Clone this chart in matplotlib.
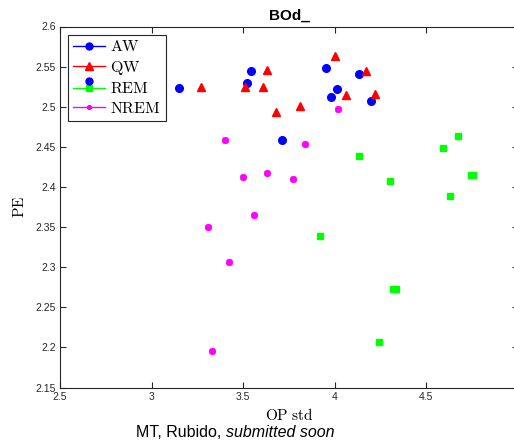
import matplotlib
matplotlib.use("Agg")
import matplotlib.pyplot as plt
from matplotlib.lines import Line2D
from matplotlib.legend_handler import HandlerBase

plt.rcParams['mathtext.fontset'] = 'cm'

aw_x = [3.15, 3.54, 3.52, 3.71, 3.95, 4.01, 3.98, 4.13, 4.20]
aw_y = [2.523, 2.545, 2.530, 2.459, 2.548, 2.522, 2.512, 2.541, 2.507]

qw_x = [3.27, 3.63, 3.51, 3.61, 3.68, 3.81, 4.00, 4.06, 4.17, 4.22]
qw_y = [2.525, 2.546, 2.524, 2.524, 2.494, 2.501, 2.563, 2.515, 2.545, 2.516]

rem_x = [4.13, 4.59, 4.67, 4.30, 4.745, 4.755, 4.63, 3.92, 4.32, 4.335, 4.24]
rem_y = [2.438, 2.449, 2.463, 2.407, 2.415, 2.415, 2.389, 2.339, 2.273, 2.273, 2.207]

nrem_x = [3.40, 3.84, 4.02, 3.50, 3.63, 3.77, 3.56, 3.31, 3.42, 3.33]
nrem_y = [2.459, 2.454, 2.497, 2.413, 2.418, 2.410, 2.365, 2.350, 2.306, 2.196]

x_ticks = [2.5, 3, 3.5, 4, 4.5]
x_labels = ['2.5', '3', '3.5', '4', '4.5']
y_ticks = [2.15, 2.2, 2.25, 2.3, 2.35, 2.4, 2.45, 2.5, 2.55, 2.6]
y_labels = ['2.15', '2.2', '2.25', '2.3', '2.35', '2.4', '2.45', '2.5', '2.55', '2.6']

W, H = 514, 441
fig = plt.figure(figsize=(W / 100, H / 100), dpi=100)
ax = fig.add_axes([60 / W, 1 - 387.5 / H, 458 / W, (387.5 - 26.5) / H])

ast = (8, 2, 0)
ax.plot(aw_x, aw_y, 'o', color='#0000ff', ms=5.5, label='AW')
ax.plot(qw_x, qw_y, '^', color='#ff0000', ms=6, label='QW')
ax.plot(rem_x, rem_y, 's', color='#00ff00', ms=4.5, label='REM')
ax.plot(nrem_x, nrem_y, ls='none', marker=ast, color='#ff00ff', ms=5, mew=1.3, label='NREM')

ax.set_xlim(2.5, 5)
ax.set_ylim(2.15, 2.6)
ax.set_xticks(x_ticks)
ax.set_yticks(y_ticks)
ax.set_xticklabels(x_labels)
ax.set_yticklabels(y_labels)
ax.tick_params(direction='in', top=True, right=True, length=4, width=0.8,
               labelsize=7.5, labelcolor='#262626', color='#262626', pad=3)
for lab in ax.get_xticklabels() + ax.get_yticklabels():
    lab.set_family('Liberation Sans')
for s in ax.spines.values():
    s.set_color('#262626')
    s.set_linewidth(0.8)

ax.set_title('BOd_', fontsize=11, fontweight='bold', family='Liberation Sans', pad=5)
ax.set_xlabel(r'$\mathrm{OP\ std}$', fontsize=11, labelpad=4)
ax.set_ylabel(r'$\mathrm{PE}$', fontsize=11, labelpad=6)


class LineMarkerHandler(HandlerBase):
    def __init__(self, color, marker, ms, mew=1.0, extra=None):
        super().__init__()
        self.color = color
        self.marker = marker
        self.ms = ms
        self.mew = mew
        self.extra = extra

    def create_artists(self, legend, orig_handle, xdescent, ydescent, width, height,
                       fontsize, trans):
        y = height / 2 - ydescent
        ln = Line2D([-xdescent, width - xdescent], [y, y], color=self.color, lw=1.0)
        mk = Line2D([width / 2 - xdescent], [y], ls='none', marker=self.marker,
                    color=self.color, ms=self.ms, mew=self.mew)
        arts = [ln, mk]
        if self.extra is not None:
            c, m, s, dy = self.extra
            ex = Line2D([width / 2 - xdescent], [y + dy], ls='none', marker=m,
                        color=c, ms=s)
            arts.append(ex)
        for a in arts:
            a.set_transform(trans)
        return arts


h = [Line2D([], []) for _ in range(4)]
handlers = {
    h[0]: LineMarkerHandler('#0000ff', 'o', 5),
    h[1]: LineMarkerHandler('#ff0000', '^', 5.5),
    h[2]: LineMarkerHandler('#00ff00', 's', 4, extra=('#0000ff', 'o', 5, 5)),
    h[3]: LineMarkerHandler('#ff00ff', ast, 3.5, mew=1.1),
}
leg = ax.legend(h, [r'$\mathrm{AW}$', r'$\mathrm{QW}$', r'$\mathrm{REM}$', r'$\mathrm{NREM}$'],
                handler_map=handlers, loc='upper left', bbox_to_anchor=(8 / 458, 1 - 8 / 361),
                borderaxespad=0, fontsize=11.5, handlelength=2.0, handletextpad=0.35,
                labelspacing=0.28, borderpad=0.3, fancybox=False, framealpha=1,
                edgecolor='#262626')
leg.get_frame().set_linewidth(0.8)

t1 = fig.text(136 / W, 1 - 440 / H, 'MT, Rubido, ', fontsize=11.5, family='Liberation Sans',
              ha='left', va='bottom')
plt.annotate('submitted soon', xy=(1, 0), xycoords=t1, ha='left', va='bottom',
             fontsize=11.5, family='Liberation Sans', style='italic')

fig.savefig('out.png', dpi=100)
